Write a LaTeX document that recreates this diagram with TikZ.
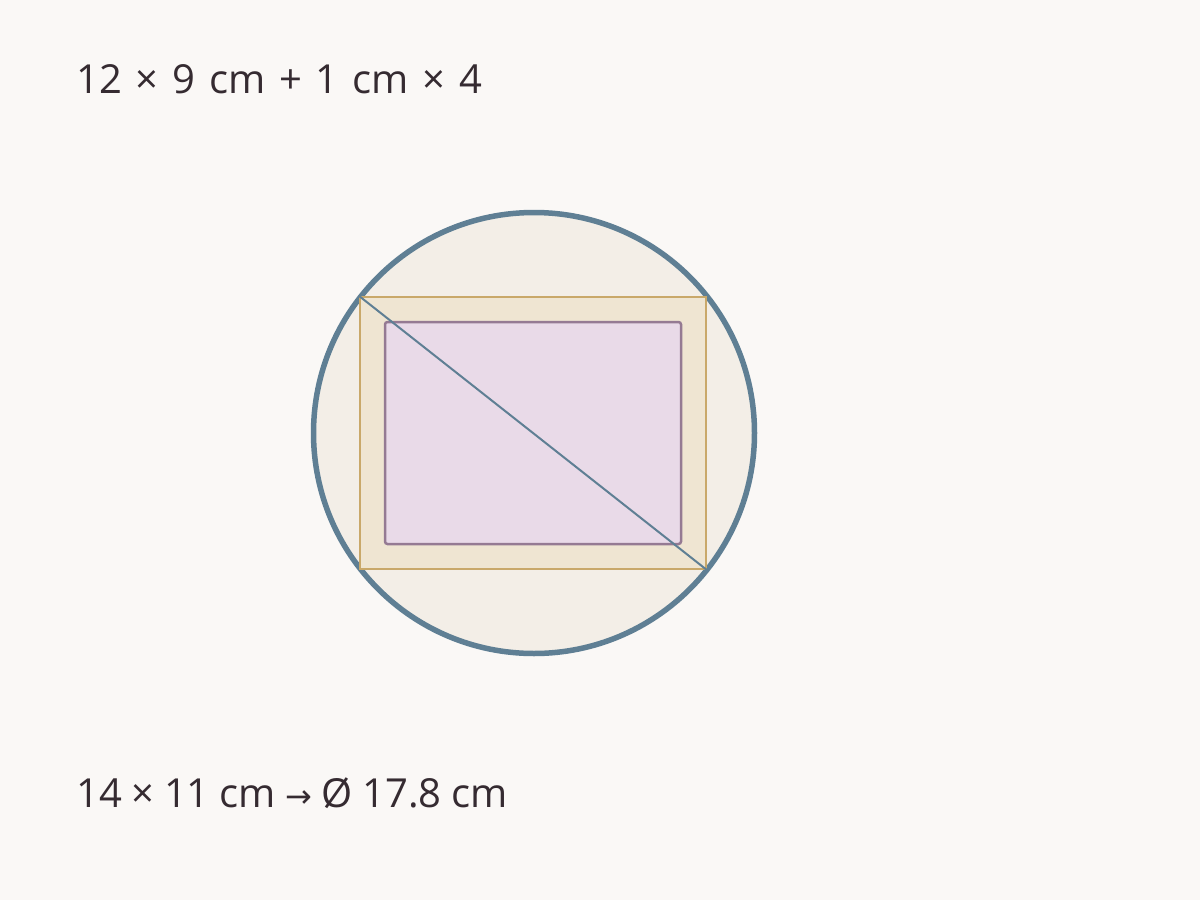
\documentclass[tikz,border=0pt]{standalone}
\usepackage{fontspec}
\setmainfont{Open Sans}
\newfontfamily\symfont{DejaVu Sans}
\definecolor{bg}{HTML}{FAF8F6}
\definecolor{circfill}{HTML}{F3EEE7}
\definecolor{circline}{HTML}{5F7F94}
\definecolor{outfill}{HTML}{EFE5D2}
\definecolor{outline}{HTML}{C9A86A}
\definecolor{infill}{HTML}{E9DAE8}
\definecolor{inline}{HTML}{957A93}
\definecolor{txt}{HTML}{352B31}
\tikzset{
  lbl/.style={anchor=base west, inner sep=0pt, text=txt, font=\fontsize{40}{46}\selectfont},
}
\begin{document}
\begin{tikzpicture}[x=1pt,y=-1pt]
\fill[bg] (0,0) rectangle (1200,900);
\useasboundingbox (0,0) rectangle (1200,900);
\node[circle, draw=circline, fill=circfill, line width=5.5pt, minimum size=441pt, inner sep=0pt] (circ) at (534,433) {};
\node[rectangle, draw=outline, fill=outfill, line width=2.8pt, minimum width=346pt, minimum height=272pt, inner sep=0pt] (outer) at (533,433) {};
\node[rectangle, draw=inline, fill=infill, line width=2.5pt, rounded corners=2.5pt, minimum width=296pt, minimum height=222pt, inner sep=0pt] (inner) at (533,433) {};
\draw[circline, line width=2pt] (outer.north west) -- (outer.south east);
\node[lbl] (top) at (76,93) {\spaceskip=13.8pt\relax 12 × 9 cm + 1 cm × 4};
\node[lbl] (bot) at (76,807) {\spaceskip=9.6pt\relax 14 × 11 cm {\symfont\fontsize{32}{40}\selectfont →} Ø 17.8 cm};
\end{tikzpicture}
\end{document}
